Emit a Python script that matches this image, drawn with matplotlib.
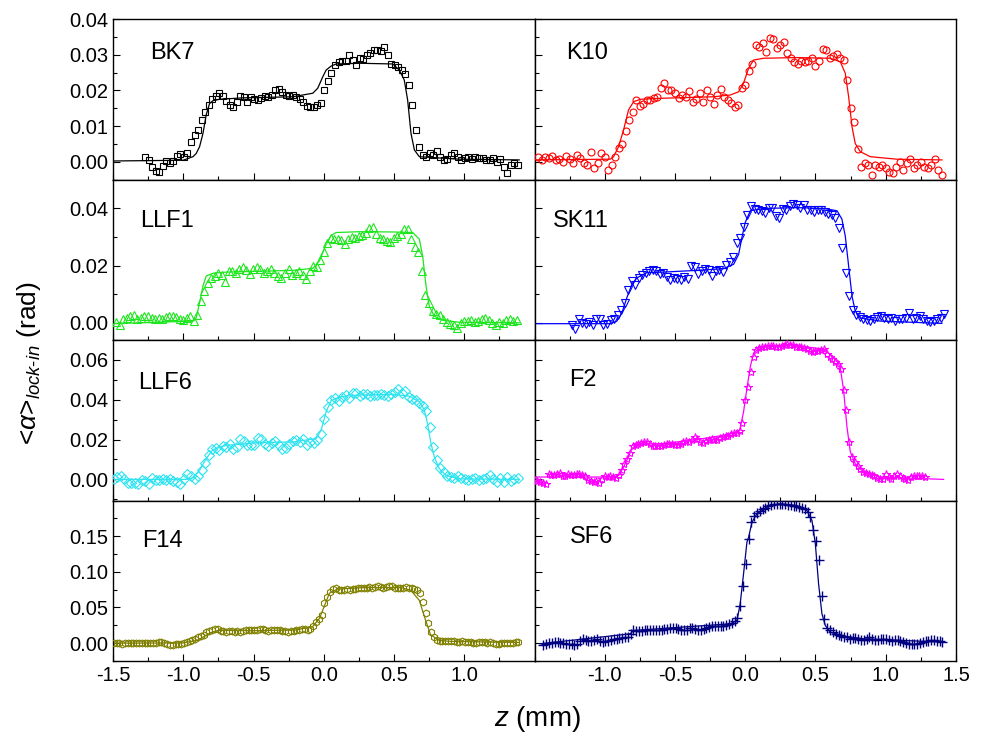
import numpy as np
import matplotlib
matplotlib.use("Agg")
import matplotlib.pyplot as plt
from matplotlib.ticker import MultipleLocator, FixedLocator, FormatStrFormatter

plt.rcParams['font.family'] = ['Liberation Sans', 'DejaVu Sans']
plt.rcParams['axes.unicode_minus'] = False
plt.rcParams['mathtext.fontset'] = 'custom'
plt.rcParams['mathtext.rm'] = 'Liberation Sans'
plt.rcParams['mathtext.it'] = 'Liberation Sans:italic'

# ---- data (z in mm, alpha in rad) ----
# each scan: first z position, z step, measured values

bk7_z0, bk7_dz = -1.27, 0.025
bk7_y = [0.0014, 0.0005, -0.0015, -0.0027, -0.0030, -0.0012, 0.0002, -0.0005, 0.0003, 0.0016,
         0.0021, 0.0012, 0.0025, 0.0055, 0.0075, 0.0090, 0.0118, 0.0138, 0.0160, 0.0175,
         0.0183, 0.0192, 0.0185, 0.0170, 0.0160, 0.0153, 0.0168, 0.0185, 0.0180, 0.0168,
         0.0182, 0.0175, 0.0173, 0.0178, 0.0185, 0.0182, 0.0187, 0.0200, 0.0205, 0.0195,
         0.0188, 0.0185, 0.0187, 0.0182, 0.0176, 0.0168, 0.0155, 0.0152, 0.0152, 0.0158,
         0.0165, 0.0200, 0.0225, 0.0250, 0.0270, 0.0280, 0.0283, 0.0282, 0.0298, 0.0285,
         0.0272, 0.0290, 0.0287, 0.0300, 0.0305, 0.0312, 0.0313, 0.0310, 0.0322, 0.0300,
         0.0275, 0.0270, 0.0265, 0.0258, 0.0245, 0.0215, 0.0160, 0.0090, 0.0040, 0.0018,
         0.0014, 0.0023, 0.0020, 0.0030, 0.0014, 0.0005, 0.0007, 0.0020, 0.0025, 0.0012,
         0.0005, 0.0010, 0.0014, 0.0008, 0.0014, 0.0010, 0.0009, 0.0006, 0.0004, 0.0009,
         0.0000, 0.0007, -0.0015, -0.0033, -0.0010, -0.0005, -0.0008]
bk7_fit_z = [-1.5, -1.002, -0.931, -0.908, -0.884, -0.860, -0.837, -0.813, -0.789, -0.742,
             -0.576, -0.220, -0.078, -0.043, -0.007, 0.017, 0.052, 0.088, 0.254, 0.491,
             0.538, 0.573, 0.597, 0.621, 0.645, 0.680, 0.964, 1.391]
bk7_fit_y = [0.0002, 0.0004, 0.0014, 0.0023, 0.0042, 0.0079, 0.0131, 0.0163, 0.0171, 0.0175,
             0.0179, 0.0182, 0.0192, 0.0206, 0.0238, 0.0257, 0.0268, 0.0274, 0.0276, 0.0274,
             0.0257, 0.0229, 0.0173, 0.0079, 0.0033, 0.0014, 0.0007, 0.0005]

k10_z0, k10_dz = -1.475, 0.025
k10_y = [0.0014, 0.0005, 0.0014, 0.0009, 0.0016, 0.0005, 0.0007, 0.0000, 0.0016, 0.0007,
         -0.0005, 0.0019, 0.0009, -0.0003, -0.0009, 0.0028, -0.0019, -0.0005, 0.0023, 0.0014,
         -0.0023, -0.0009, 0.0014, 0.0037, 0.0051, 0.0085, 0.0117, 0.0140, 0.0173, 0.0155,
         0.0163, 0.0173, 0.0173, 0.0178, 0.0182, 0.0206, 0.0222, 0.0201, 0.0201, 0.0192,
         0.0178, 0.0187, 0.0182, 0.0199, 0.0168, 0.0175, 0.0192, 0.0168, 0.0201, 0.0182,
         0.0163, 0.0187, 0.0203, 0.0182, 0.0173, 0.0164, 0.0154, 0.0160, 0.0206, 0.0215,
         0.0255, 0.0275, 0.0327, 0.0322, 0.0332, 0.0308, 0.0348, 0.0343, 0.0318, 0.0327,
         0.0337, 0.0305, 0.0292, 0.0280, 0.0275, 0.0283, 0.0280, 0.0283, 0.0290, 0.0268,
         0.0283, 0.0315, 0.0313, 0.0292, 0.0297, 0.0301, 0.0292, 0.0285, 0.0230, 0.0150,
         0.0110, 0.0035, -0.0014, -0.0005, -0.0009, -0.0037, -0.0009, -0.0014, -0.0009, -0.0019,
         -0.0028, -0.0033, -0.0014, 0.0000, -0.0023, -0.0005, 0.0007, -0.0019, -0.0009, 0.0000,
         -0.0014, -0.0019, -0.0009, 0.0007, -0.0023, -0.0037]
k10_fit_z = [-1.5, -0.961, -0.937, -0.902, -0.866, -0.831, -0.795, -0.748, -0.581, -0.225,
             -0.107, -0.047, -0.012, 0.024, 0.059, 0.131, 0.368, 0.605, 0.677, 0.712,
             0.736, 0.760, 0.783, 0.819, 0.890, 1.080, 1.400]
k10_fit_y = [0.0005, 0.0007, 0.0014, 0.0042, 0.0089, 0.0145, 0.0168, 0.0175, 0.0178, 0.0182,
             0.0187, 0.0196, 0.0220, 0.0262, 0.0285, 0.0290, 0.0292, 0.0290, 0.0280, 0.0248,
             0.0182, 0.0098, 0.0051, 0.0028, 0.0014, 0.0007, 0.0005]

llf1_z0, llf1_dz = -1.476, 0.025
llf1_y = [0.0002, -0.0006, 0.0012, 0.0017, 0.0023, 0.0027, 0.0014, 0.0017, 0.0023, 0.0023,
          0.0017, 0.0012, 0.0017, 0.0014, 0.0020, 0.0023, 0.0023, 0.0020, 0.0012, 0.0009,
          0.0017, 0.0023, 0.0006, 0.0029, 0.0076, 0.0111, 0.0140, 0.0156, 0.0163, 0.0173,
          0.0166, 0.0142, 0.0181, 0.0181, 0.0175, 0.0187, 0.0196, 0.0184, 0.0169, 0.0189,
          0.0196, 0.0189, 0.0173, 0.0181, 0.0187, 0.0173, 0.0163, 0.0157, 0.0175, 0.0187,
          0.0166, 0.0175, 0.0181, 0.0166, 0.0152, 0.0181, 0.0198, 0.0196, 0.0219, 0.0247,
          0.0280, 0.0297, 0.0292, 0.0294, 0.0289, 0.0274, 0.0292, 0.0300, 0.0297, 0.0303,
          0.0307, 0.0315, 0.0332, 0.0336, 0.0309, 0.0297, 0.0292, 0.0286, 0.0282, 0.0297,
          0.0303, 0.0309, 0.0327, 0.0327, 0.0292, 0.0266, 0.0247, 0.0181, 0.0096, 0.0068,
          0.0042, 0.0031, 0.0027, 0.0014, 0.0003, -0.0005, -0.0007, -0.0019, -0.0002, 0.0005,
          0.0006, 0.0009, 0.0003, 0.0006, 0.0014, 0.0017, 0.0009, 0.0000, -0.0006, 0.0002,
          -0.0002, 0.0009, 0.0015, 0.0006, 0.0009]
llf1_fit_z = [-1.5, -0.931, -0.908, -0.884, -0.860, -0.837, -0.789, -0.694, -0.220, -0.078,
              -0.031, 0.017, 0.052, 0.088, 0.254, 0.491, 0.633, 0.680, 0.704, 0.728,
              0.751, 0.787, 0.846, 0.964, 1.391]
llf1_fit_y = [-0.0003, 0.0006, 0.0017, 0.0070, 0.0128, 0.0163, 0.0173, 0.0177, 0.0183, 0.0190,
              0.0216, 0.0274, 0.0305, 0.0315, 0.0318, 0.0317, 0.0315, 0.0292, 0.0233, 0.0128,
              0.0058, 0.0023, 0.0009, 0.0002, 0.0000]

sk11_z0, sk11_dz = -1.234, 0.025
sk11_y = [-0.0006, -0.0021, 0.0014, 0.0000, -0.0003, 0.0002, -0.0006, 0.0012, 0.0012, -0.0009,
          -0.0003, 0.0009, 0.0015, 0.0029, 0.0044, 0.0070, 0.0114, 0.0145, 0.0131, 0.0157,
          0.0166, 0.0175, 0.0181, 0.0184, 0.0180, 0.0170, 0.0173, 0.0161, 0.0148, 0.0156,
          0.0154, 0.0150, 0.0161, 0.0154, 0.0198, 0.0196, 0.0171, 0.0181, 0.0187, 0.0184,
          0.0163, 0.0181, 0.0184, 0.0177, 0.0201, 0.0212, 0.0231, 0.0278, 0.0297, 0.0336,
          0.0376, 0.0406, 0.0397, 0.0392, 0.0391, 0.0383, 0.0400, 0.0399, 0.0373, 0.0367,
          0.0397, 0.0393, 0.0406, 0.0414, 0.0410, 0.0399, 0.0410, 0.0392, 0.0394, 0.0387,
          0.0392, 0.0394, 0.0387, 0.0381, 0.0376, 0.0367, 0.0332, 0.0262, 0.0175, 0.0093,
          0.0044, 0.0026, 0.0021, 0.0014, 0.0009, 0.0005, 0.0014, 0.0021, 0.0023, 0.0016,
          0.0012, 0.0016, 0.0006, 0.0012, 0.0012, 0.0016, 0.0035, 0.0014, 0.0017, 0.0023,
          0.0012, 0.0005, 0.0002, 0.0007, 0.0012, 0.0016, 0.0031]
sk11_fit_z = [-1.5, -0.961, -0.914, -0.878, -0.843, -0.807, -0.771, -0.700, -0.581, -0.344,
              -0.154, -0.083, -0.047, -0.024, 0.000, 0.036, 0.131, 0.368, 0.558, 0.653,
              0.688, 0.712, 0.736, 0.760, 0.783, 0.819, 0.961, 1.400]
sk11_fit_y = [-0.0003, -0.0003, 0.0006, 0.0035, 0.0087, 0.0134, 0.0157, 0.0175, 0.0177, 0.0183,
              0.0189, 0.0204, 0.0239, 0.0297, 0.0350, 0.0391, 0.0399, 0.0402, 0.0399, 0.0391,
              0.0362, 0.0303, 0.0198, 0.0093, 0.0041, 0.0017, 0.0006, -0.0002]

llf6_z0, llf6_dz = -1.495, 0.025
llf6_y = [0.0003, 0.0012, 0.0015, 0.0000, -0.0017, -0.0018, -0.0018, -0.0022, -0.0002, -0.0008,
          -0.0022, 0.0008, -0.0005, -0.0002, 0.0003, -0.0005, 0.0003, -0.0007, -0.0015, -0.0025,
          0.0003, 0.0025, 0.0015, 0.0003, 0.0018, 0.0045, 0.0082, 0.0124, 0.0153, 0.0158,
          0.0150, 0.0170, 0.0163, 0.0180, 0.0155, 0.0163, 0.0202, 0.0192, 0.0175, 0.0171,
          0.0175, 0.0207, 0.0203, 0.0180, 0.0166, 0.0183, 0.0192, 0.0171, 0.0155, 0.0160,
          0.0176, 0.0195, 0.0200, 0.0188, 0.0203, 0.0175, 0.0187, 0.0182, 0.0200, 0.0227,
          0.0301, 0.0365, 0.0398, 0.0407, 0.0392, 0.0415, 0.0422, 0.0410, 0.0434, 0.0435,
          0.0418, 0.0427, 0.0430, 0.0420, 0.0425, 0.0425, 0.0430, 0.0425, 0.0420, 0.0427,
          0.0439, 0.0452, 0.0435, 0.0445, 0.0415, 0.0405, 0.0398, 0.0385, 0.0370, 0.0345,
          0.0264, 0.0163, 0.0096, 0.0059, 0.0035, 0.0018, 0.0010, 0.0005, 0.0015, 0.0008,
          0.0000, -0.0005, 0.0000, 0.0007, -0.0002, 0.0000, 0.0008, 0.0024, 0.0002, -0.0013,
          0.0008, -0.0013, 0.0012, -0.0008, 0.0003, 0.0008]
llf6_fit_z = [-1.5, -0.979, -0.931, -0.884, -0.837, -0.789, -0.694, -0.457, -0.220, -0.054,
              -0.019, 0.017, 0.052, 0.111, 0.254, 0.491, 0.609, 0.680, 0.716, 0.739,
              0.763, 0.787, 0.822, 0.870, 0.964, 1.391]
llf6_fit_y = [0.0000, 0.0000, 0.0008, 0.0045, 0.0104, 0.0150, 0.0171, 0.0185, 0.0188, 0.0205,
              0.0247, 0.0340, 0.0395, 0.0415, 0.0424, 0.0427, 0.0418, 0.0390, 0.0348, 0.0279,
              0.0180, 0.0113, 0.0054, 0.0020, 0.0003, 0.0000]

f2_z0, f2_dz = -1.5, 0.02
f2_y = [-0.0002, -0.0008, -0.0013, -0.0018, -0.0022, 0.0025, 0.0024, 0.0020, 0.0029, 0.0032,
        0.0015, 0.0015, 0.0025, 0.0022, 0.0020, 0.0025, 0.0029, 0.0024, 0.0018, -0.0002,
        -0.0008, -0.0013, -0.0008, -0.0017, 0.0003, 0.0017, 0.0012, 0.0015, 0.0012, 0.0008,
        0.0020, 0.0045, 0.0076, 0.0103, 0.0133, 0.0168, 0.0175, 0.0180, 0.0183, 0.0187,
        0.0188, 0.0180, 0.0170, 0.0168, 0.0166, 0.0170, 0.0173, 0.0176, 0.0180, 0.0178,
        0.0173, 0.0171, 0.0180, 0.0188, 0.0192, 0.0188, 0.0197, 0.0213, 0.0203, 0.0190,
        0.0185, 0.0193, 0.0200, 0.0203, 0.0197, 0.0197, 0.0207, 0.0213, 0.0217, 0.0220,
        0.0227, 0.0232, 0.0235, 0.0244, 0.0285, 0.0398, 0.0465, 0.0540, 0.0617, 0.0650,
        0.0659, 0.0664, 0.0667, 0.0671, 0.0669, 0.0671, 0.0667, 0.0666, 0.0672, 0.0676,
        0.0679, 0.0677, 0.0674, 0.0667, 0.0664, 0.0667, 0.0662, 0.0654, 0.0644, 0.0640,
        0.0644, 0.0647, 0.0650, 0.0654, 0.0630, 0.0617, 0.0607, 0.0592, 0.0578, 0.0553,
        0.0449, 0.0348, 0.0188, 0.0113, 0.0086, 0.0067, 0.0054, 0.0039, 0.0030, 0.0027,
        0.0024, 0.0015, 0.0005, 0.0000, 0.0003, 0.0025, 0.0012, 0.0002, 0.0017, 0.0029,
        0.0015, 0.0008, 0.0002, -0.0002, 0.0012, 0.0017, 0.0018, 0.0017, 0.0015, 0.0012]
f2_fit_z = [-1.5, -0.914, -0.890, -0.843, -0.807, -0.771, -0.581, -0.344, -0.107, -0.040,
            -0.012, 0.012, 0.036, 0.059, 0.107, 0.321, 0.558, 0.653, 0.677, 0.700,
            0.724, 0.748, 0.783, 0.843, 0.961, 1.412]
f2_fit_y = [0.0012, 0.0012, 0.0029, 0.0096, 0.0155, 0.0176, 0.0180, 0.0200, 0.0227, 0.0244,
            0.0339, 0.0457, 0.0566, 0.0634, 0.0664, 0.0676, 0.0654, 0.0600, 0.0558, 0.0449,
            0.0264, 0.0138, 0.0079, 0.0037, 0.0012, 0.0000]

f14_z0, f14_dz = -1.495, 0.02
f14_y = [0.0005, 0.0000, 0.0002, -0.0005, 0.0000, -0.0003, 0.0003, 0.0006, 0.0000, -0.0004,
         0.0002, 0.0007, 0.0003, 0.0000, 0.0006, 0.0004, 0.0010, 0.0015, 0.0005, -0.0015,
         -0.0030, -0.0025, -0.0018, -0.0010, -0.0005, 0.0003, 0.0010, 0.0028, 0.0045, 0.0060,
         0.0080, 0.0095, 0.0120, 0.0150, 0.0175, 0.0190, 0.0205, 0.0200, 0.0175, 0.0168,
         0.0155, 0.0165, 0.0170, 0.0160, 0.0165, 0.0158, 0.0172, 0.0180, 0.0178, 0.0185,
         0.0178, 0.0190, 0.0200, 0.0198, 0.0182, 0.0175, 0.0180, 0.0178, 0.0185, 0.0180,
         0.0172, 0.0165, 0.0160, 0.0168, 0.0170, 0.0178, 0.0190, 0.0205, 0.0200, 0.0190,
         0.0195, 0.0235, 0.0290, 0.0340, 0.0400, 0.0560, 0.0650, 0.0720, 0.0760, 0.0770,
         0.0750, 0.0740, 0.0745, 0.0755, 0.0750, 0.0760, 0.0765, 0.0770, 0.0775, 0.0780,
         0.0775, 0.0785, 0.0780, 0.0790, 0.0800, 0.0785, 0.0780, 0.0790, 0.0805, 0.0795,
         0.0780, 0.0775, 0.0780, 0.0780, 0.0785, 0.0778, 0.0770, 0.0760, 0.0740, 0.0700,
         0.0580, 0.0420, 0.0280, 0.0160, 0.0080, 0.0040, 0.0030, 0.0035, 0.0030, 0.0028,
         0.0025, 0.0028, 0.0020, 0.0018, 0.0025, 0.0022, 0.0020, 0.0015, 0.0008, 0.0000,
         0.0010, 0.0018, 0.0012, 0.0005, 0.0010, 0.0003, -0.0005, -0.0008, 0.0000, 0.0002,
         -0.0002, 0.0000, 0.0005, 0.0012, 0.0015]
f14_fit_z = [-1.5, -1.0, -0.9, -0.8, -0.75, -0.5, -0.2, -0.08, -0.03, 0.0,
             0.04, 0.1, 0.3, 0.55, 0.62, 0.68, 0.72, 0.76, 0.82, 0.9, 1.2, 1.39]
f14_fit_y = [0.0000, 0.0003, 0.0040, 0.0150, 0.0180, 0.0175, 0.0185, 0.0230, 0.0350, 0.0500,
             0.0700, 0.0760, 0.0780, 0.0780, 0.0740, 0.0600, 0.0350, 0.0120, 0.0040, 0.0025,
             0.0015, 0.0010]

sf6_z0, sf6_dz = -1.436, 0.02
sf6_y = [-0.0019, -0.0009, 0.0000, 0.0005, 0.0014, 0.0014, 0.0005, 0.0000, -0.0005, -0.0009,
         -0.0014, -0.0019, -0.0009, 0.0037, 0.0061, 0.0047, 0.0028, 0.0037, 0.0051, 0.0061,
         0.0037, 0.0014, 0.0028, 0.0037, 0.0051, 0.0061, 0.0065, 0.0075, 0.0075, 0.0084,
         0.0093, 0.0131, 0.0178, 0.0173, 0.0168, 0.0173, 0.0178, 0.0178, 0.0182, 0.0187,
         0.0182, 0.0178, 0.0182, 0.0196, 0.0201, 0.0210, 0.0215, 0.0206, 0.0192, 0.0187,
         0.0178, 0.0178, 0.0215, 0.0215, 0.0196, 0.0182, 0.0178, 0.0201, 0.0215, 0.0224,
         0.0234, 0.0234, 0.0234, 0.0238, 0.0243, 0.0248, 0.0262, 0.0280, 0.0308, 0.0350,
         0.0528, 0.0808, 0.1112, 0.1463, 0.1696, 0.1785, 0.1822, 0.1850, 0.1879, 0.1897,
         0.1916, 0.1930, 0.1944, 0.1953, 0.1949, 0.1944, 0.1944, 0.1935, 0.1930, 0.1925,
         0.1916, 0.1907, 0.1893, 0.1874, 0.1836, 0.1766, 0.1589, 0.1439, 0.1168, 0.0668,
         0.0341, 0.0215, 0.0178, 0.0150, 0.0131, 0.0117, 0.0103, 0.0093, 0.0084, 0.0065,
         0.0070, 0.0075, 0.0065, 0.0051, 0.0047, 0.0065, 0.0084, 0.0065, 0.0051, 0.0047,
         0.0056, 0.0065, 0.0056, 0.0042, 0.0037, 0.0042, 0.0047, 0.0028, 0.0014, 0.0005,
         -0.0009, -0.0014, -0.0009, -0.0005, 0.0005, 0.0014, 0.0028, 0.0037, 0.0042, 0.0047,
         0.0037, 0.0028, 0.0019]
sf6_fit_z = [-1.460, -0.819, -0.795, -0.107, -0.059, -0.036, -0.012, 0.012, 0.024, 0.048,
             0.083, 0.178, 0.249, 0.368, 0.439, 0.475, 0.499, 0.522, 0.546, 0.570,
             0.605, 0.724, 0.843, 1.412]
sf6_fit_y = [-0.0009, 0.0131, 0.0178, 0.0271, 0.0318, 0.0551, 0.0972, 0.1416, 0.1486, 0.1696,
             0.1813, 0.1930, 0.1953, 0.1930, 0.1860, 0.1720, 0.1393, 0.0832, 0.0411, 0.0248,
             0.0154, 0.0093, 0.0061, 0.0014]

glass_names = ["BK7", "K10", "LLF1", "SK11", "LLF6", "F2", "F14", "SF6"]

# tick values shown on each row / column
row_yticks = [[0.00, 0.01, 0.02, 0.03, 0.04],
              [0.00, 0.02, 0.04],
              [0.00, 0.02, 0.04, 0.06],
              [0.00, 0.05, 0.10, 0.15]]
col_xticks = [[-1.5, -1.0, -0.5, 0.0, 0.5, 1.0],
              [-1.0, -0.5, 0.0, 0.5, 1.0, 1.5]]


def scan_z(z0, dz, values):
    """z positions of an equally spaced scan."""
    return z0 + dz * np.arange(len(values))


panels = [
    (scan_z(bk7_z0, bk7_dz, bk7_y), bk7_y, bk7_fit_z, bk7_fit_y),
    (scan_z(k10_z0, k10_dz, k10_y), k10_y, k10_fit_z, k10_fit_y),
    (scan_z(llf1_z0, llf1_dz, llf1_y), llf1_y, llf1_fit_z, llf1_fit_y),
    (scan_z(sk11_z0, sk11_dz, sk11_y), sk11_y, sk11_fit_z, sk11_fit_y),
    (scan_z(llf6_z0, llf6_dz, llf6_y), llf6_y, llf6_fit_z, llf6_fit_y),
    (scan_z(f2_z0, f2_dz, f2_y), f2_y, f2_fit_z, f2_fit_y),
    (scan_z(f14_z0, f14_dz, f14_y), f14_y, f14_fit_z, f14_fit_y),
    (scan_z(sf6_z0, sf6_dz, sf6_y), sf6_y, sf6_fit_z, sf6_fit_y),
]

# ---- styles ----
colors = ['black', '#ff0000', '#1ee61e', '#0000ff', '#2ee3f0', '#ff00ff', '#808000', '#000080']
markers = ['s', 'o', '^', 'v', 'D', '*', 'h', '+']
msizes = [5.0, 5.0, 5.5, 5.5, 5.0, 6.0, 5.0, 6.5]
label_pos = [(0.089, 0.79), (0.076, 0.79), (0.064, 0.74), (0.044, 0.74),
             (0.059, 0.73), (0.081, 0.75), (0.070, 0.75), (0.085, 0.77)]
row_ylim = [(-0.005, 0.04), (-0.006, 0.05), (-0.0106, 0.07), (-0.025, 0.2)]
row_minor = [0.005, 0.01, 0.01, 0.025]

fig, axes = plt.subplots(4, 2, figsize=(9.82, 7.32), dpi=100, sharex='col')
fig.subplots_adjust(left=0.1151, right=0.9735, top=0.974, bottom=0.097,
                    hspace=0, wspace=0)

for k, (z, y, fz, fy) in enumerate(panels):
    row, col = divmod(k, 2)
    ax = axes[row, col]
    c = colors[k]
    ax.plot(fz, fy, '-', color=c, lw=0.9, zorder=2)
    if markers[k] == '+':
        ax.plot(z, y, linestyle='none', marker='+', ms=msizes[k], mew=1.0,
                color=c, zorder=3)
    else:
        ax.plot(z, y, linestyle='none', marker=markers[k], ms=msizes[k], mew=0.8,
                mfc='none', mec=c, zorder=3)
    ax.text(label_pos[k][0], label_pos[k][1], glass_names[k], transform=ax.transAxes,
            fontsize=17, ha='left', va='center')

    ax.set_xlim(-1.5, 1.5)
    ax.set_ylim(*row_ylim[row])
    ax.yaxis.set_major_locator(FixedLocator(row_yticks[row]))
    ax.yaxis.set_minor_locator(MultipleLocator(row_minor[row]))
    ax.yaxis.set_major_formatter(FormatStrFormatter('%.2f'))
    ax.xaxis.set_major_locator(FixedLocator(col_xticks[col]))
    ax.xaxis.set_minor_locator(MultipleLocator(0.25))
    ax.xaxis.set_major_formatter(FormatStrFormatter('%.1f'))
    ax.tick_params(which='both', direction='in', top=False, right=False,
                   labelsize=14.5, width=0.8)
    ax.tick_params(which='major', length=5)
    ax.tick_params(which='minor', length=3)
    if col == 1:
        ax.tick_params(labelleft=False)
    for sp in ax.spines.values():
        sp.set_linewidth(1.0)

fig.text(0.03, 0.504, r'<$\alpha$>$_{\mathit{lock}\text{-}\mathit{in}}$ (rad)',
         rotation=90, fontsize=19, ha='center', va='center')
fig.text(0.547, 0.018, r'$\mathit{z}$ (mm)', fontsize=20, ha='center', va='center')

fig.savefig('out.png', dpi=100)
